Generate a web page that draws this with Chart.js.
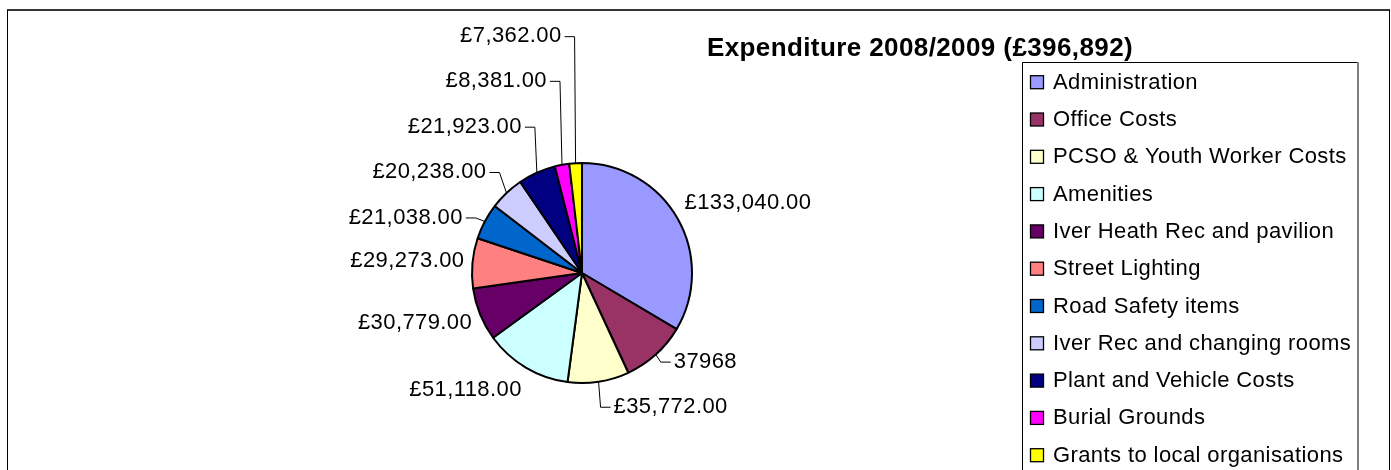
<!DOCTYPE html>
<html>
<head>
<meta charset="utf-8">
<script src="https://cdn.jsdelivr.net/npm/chart.js@4.4.0/dist/chart.umd.min.js"></script>
<style>
  html, body { margin: 0; padding: 0; background: #fff; }
  #wrap { position: relative; width: 1391px; height: 470px; }
</style>
</head>
<body>
<div id="wrap"><canvas id="expChart" width="1391" height="470"></canvas></div>
<script>
// ── Data ───────────────────────────────
const chartTitle = 'Expenditure 2008/2009 (£396,892)';
const categories = ['Administration','Office Costs','PCSO & Youth Worker Costs','Amenities',
  'Iver Heath Rec and pavilion','Street Lighting','Road Safety items','Iver Rec and changing rooms',
  'Plant and Vehicle Costs','Burial Grounds','Grants to local organisations'];
const amounts = [133040, 37968, 35772, 51118, 30779, 29273, 21038, 20238, 21923, 8381, 7362];
const plainFormat = [1]; // this slice is shown without currency formatting in the original
const sliceColors = ['#9999FF','#993366','#FFFFCC','#CCFFFF','#660066','#FF8080',
  '#0066CC','#CCCCFF','#000080','#FF00FF','#FFFF00'];

// label placement relative to the slice's outer edge at mid angle
const labelOffsets = [[7,-16],[18,7],[15,25],[-4,22],[-8,9],[-8,-2],[-22,-4],[-20,-21],[-15,-46],[-15,-84],[-14,-127]];
const withLeader = [false,true,true,false,false,false,true,true,true,true,true];

const money = v => '£' + v.toFixed(2).replace(/\B(?=(\d{3})+(?!\d))/g, ',');
const valueText = amounts.map((v, i) => plainFormat.includes(i) ? String(v) : money(v));

const FONT = '"Liberation Sans", Arial, sans-serif';

const excelLook = {
  id: 'excelLook',
  afterDraw(chart) {
    const ctx = chart.ctx;
    ctx.save();
    if ('letterSpacing' in ctx) ctx.letterSpacing = '0.4px';

    // outer frame
    ctx.strokeStyle = '#333'; ctx.lineWidth = 2;
    ctx.beginPath(); ctx.moveTo(7, 10); ctx.lineTo(1390, 10); ctx.stroke();
    ctx.strokeStyle = '#000'; ctx.lineWidth = 1;
    ctx.beginPath(); ctx.moveTo(7.5, 10); ctx.lineTo(7.5, 470); ctx.stroke();
    ctx.beginPath(); ctx.moveTo(1389.5, 10); ctx.lineTo(1389.5, 470); ctx.stroke();

    // title
    ctx.fillStyle = '#000';
    ctx.font = 'bold 26px ' + FONT;
    ctx.textAlign = 'center'; ctx.textBaseline = 'alphabetic';
    ctx.fillText(chartTitle, 920, 56);

    // legend box
    ctx.strokeStyle = '#000'; ctx.lineWidth = 1;
    ctx.beginPath(); ctx.moveTo(1022.5, 475); ctx.lineTo(1022.5, 62.5); ctx.lineTo(1358, 62.5); ctx.stroke();
    ctx.strokeStyle = '#808080'; ctx.lineWidth = 2;
    ctx.beginPath(); ctx.moveTo(1358, 62); ctx.lineTo(1358, 475); ctx.stroke();

    ctx.font = '22px ' + FONT;
    ctx.textAlign = 'left';
    categories.forEach((name, i) => {
      const base = 88.7 + i * 37.3;
      ctx.fillStyle = sliceColors[i];
      ctx.fillRect(1030.5, base - 13, 13, 13);
      ctx.strokeStyle = '#000'; ctx.lineWidth = 1.3;
      ctx.strokeRect(1030.5, base - 13, 13, 13);
      ctx.fillStyle = '#000';
      ctx.fillText(name, 1053, base);
    });

    // data labels with leader lines
    const arcs = chart.getDatasetMeta(0).data;
    ctx.textBaseline = 'middle';
    arcs.forEach((arc, i) => {
      const mid = (arc.startAngle + arc.endAngle) / 2;
      const ex = arc.x + Math.cos(mid) * arc.outerRadius;
      const ey = arc.y + Math.sin(mid) * arc.outerRadius;
      const [dx, dy] = labelOffsets[i];
      const tx = ex + dx, ty = ey + dy;
      const leftSide = Math.cos(mid) < 0;
      ctx.textAlign = leftSide ? 'right' : 'left';
      ctx.fillStyle = '#000';
      ctx.fillText(valueText[i], tx, ty);
      if (withLeader[i]) {
        const sx = leftSide ? tx + 3 : tx - 3;
        const hx = leftSide ? sx + 10 : sx - 10;
        ctx.strokeStyle = '#000'; ctx.lineWidth = 1;
        ctx.beginPath();
        ctx.moveTo(sx, ty + 0.5); ctx.lineTo(hx, ty + 0.5); ctx.lineTo(ex, ey);
        ctx.stroke();
      }
    });
    ctx.restore();
  }
};

new Chart(document.getElementById('expChart').getContext('2d'), {
  type: 'pie',
  data: {
    labels: categories,
    datasets: [{ data: amounts, backgroundColor: sliceColors, borderColor: '#000', borderWidth: 2 }]
  },
  options: {
    responsive: false,
    animation: false,
    layout: { padding: { left: 471, right: 698, top: 162, bottom: 86 } },
    plugins: { legend: { display: false }, tooltip: { enabled: false }, title: { display: false } }
  },
  plugins: [excelLook]
});
</script>
</body>
</html>
